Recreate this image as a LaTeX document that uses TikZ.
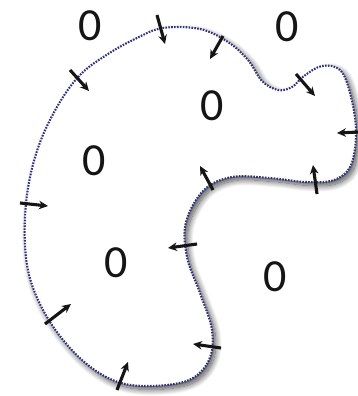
\documentclass[tikz,border=0pt]{standalone}
\usepackage{fontspec}
\setmainfont{Carlito}
\usetikzlibrary{arrows.meta,shadows.blur}
\definecolor{dotblue}{HTML}{2E3278}
\definecolor{inkblack}{HTML}{151515}
\tikzset{
  regionline/.style={draw=dotblue, line width=2.1pt, dash pattern=on 1.6pt off 1.3pt,
                     fill=white, blur shadow={shadow xshift=3pt, shadow yshift=-3.5pt,
                     shadow blur radius=6pt, shadow blur steps=14, shadow opacity=70}},
  normarr/.style={-{Stealth[length=9pt,width=8.5pt]}, line width=3.1pt, color=inkblack},
  zerolabel/.style={font=\fontsize{46}{48}\selectfont, text=inkblack, inner sep=0pt}}
\begin{document}
\begin{tikzpicture}[x=1pt,y=-1pt]
    \useasboundingbox (0,0) rectangle (358,396);
    % the region
    \path[regionline] plot[smooth cycle, tension=0.6] coordinates {
      (163,28) (200,29) (228,42) (248,60) (262,81) (278,90) (292,87) (304,76)
      (322,66) (340,70) (350,93) (356,130) (351,165) (334,180) (306,182)
      (270,178) (232,177) (204,190) (186,222) (187,257) (200,293) (212,330)
      (209,360) (189,380) (150,386) (115,381) (82,360) (52,325) (32,285)
      (25,245) (27,195) (38,148) (57,107) (80,75) (108,54) (137,38)};
    % the labels
    \node[zerolabel] (zoutnw) at (90,26) {0};
    \node[zerolabel] (zoutne) at (287,27) {0};
    \node[zerolabel] (zinne) at (212,106) {0};
    \node[zerolabel] (zinw) at (94,161) {0};
    \node[zerolabel] (zinsw) at (116,263) {0};
    \node[zerolabel] (zoutse) at (275,277) {0};
    % the normals, all pointing inward
    \foreach \n/\ox/\oy/\ix/\iy in {1/157/15/165/44, 2/70/70/89/91, 3/223/36/210/59,
        4/296/74/315/96, 5/359/132/337/133, 6/317/194/313/165, 7/213/190/200/166,
        8/197/244/168/248, 9/221/348/193/344, 10/117/390/128/362,
        11/45/324/71/304, 12/20/203/48/206}{
      \coordinate (out\n) at (\ox,\oy);
      \coordinate (in\n) at (\ix,\iy);
      \draw[normarr] (out\n) -- (in\n);
    }
\end{tikzpicture}
\end{document}
